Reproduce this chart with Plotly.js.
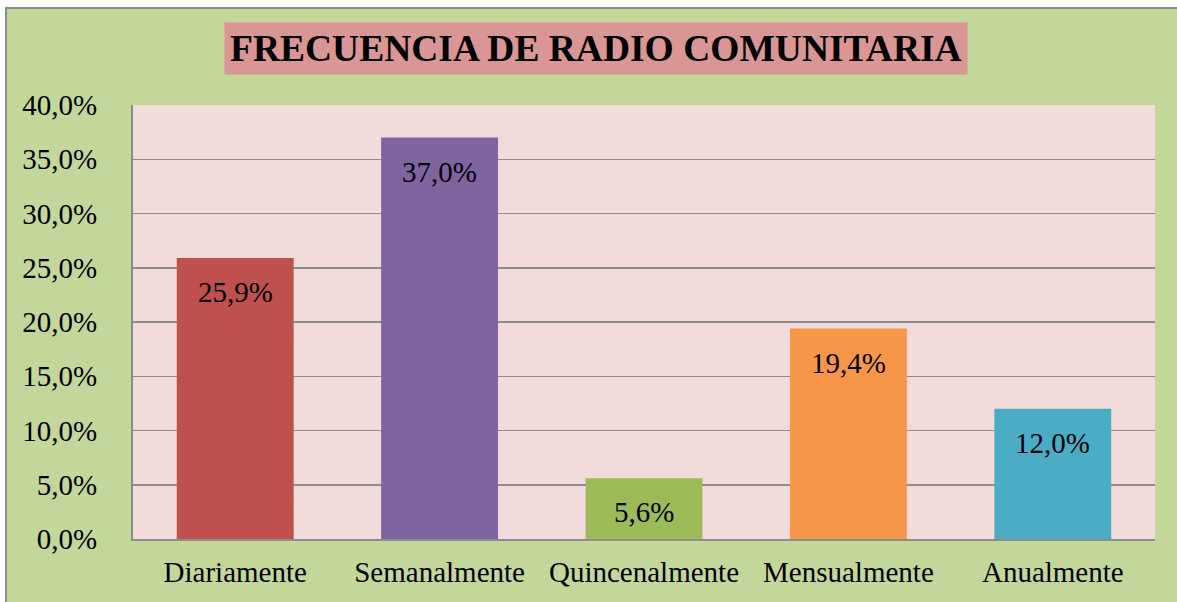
<!DOCTYPE html>
<html>
<head>
<meta charset="utf-8">
<script src="https://cdn.plot.ly/plotly-3.0.1.min.js"></script>
<style>
html,body{margin:0;padding:0;background:#ffffff;width:1177px;height:602px;overflow:hidden;}
#chart{position:absolute;left:5px;top:7px;width:1170px;height:593px;border-left:2px solid #8c8c8c;border-top:2px solid #8c8c8c;}
</style>
</head>
<body>
<div id="chart"></div>
<script>
var categories = ["Diariamente", "Semanalmente", "Quincenalmente", "Mensualmente", "Anualmente"];
var values = [25.9, 37.0, 5.6, 19.4, 12.0];
var labels = ["25,9%", "37,0%", "5,6%", "19,4%", "12,0%"];
var colors = ["#C0504D", "#8064A2", "#9BBB59", "#F79646", "#4BACC6"];
var tickVals = [0, 5, 10, 15, 20, 25, 30, 35, 40];
var tickText = ["0,0%", "5,0%", "10,0%", "15,0%", "20,0%", "25,0%", "30,0%", "35,0%", "40,0%"];
var titleText = "FRECUENCIA DE RADIO COMUNITARIA";

var font = "Liberation Serif, Times New Roman, serif";

var trace = {
  type: "bar",
  x: categories,
  y: values,
  marker: {color: colors, line: {width: 0}},
  hoverinfo: "none"
};

var annotations = categories.map(function (c, i) {
  return {
    x: c, y: values[i], xref: "x", yref: "y",
    text: labels[i], showarrow: false,
    yshift: -34, yanchor: "middle", xanchor: "center",
    font: {family: font, size: 29, color: "#000000"}
  };
});

annotations.push({
  xref: "paper", yref: "paper",
  x: 0.4528, y: 1.1313, xanchor: "center", yanchor: "middle",
  text: "<b>" + titleText + "</b>", showarrow: false,
  bgcolor: "#DA9694", borderpad: 5,
  font: {family: font, size: 37.5, color: "#000000"}
});

var layout = {
  width: 1170, height: 593,
  margin: {l: 126, r: 22, t: 96, b: 63, pad: 0},
  paper_bgcolor: "#C4D79B",
  plot_bgcolor: "#F2DCDB",
  bargap: 0.428,
  showlegend: false,
  font: {family: font, color: "#000000"},
  xaxis: {
    type: "category",
    showline: true, linecolor: "#8c8c8c", linewidth: 2,
    showgrid: false, ticks: "",
    ticklabelstandoff: 6,
    tickfont: {family: font, size: 29, color: "#000000"},
    fixedrange: true
  },
  yaxis: {
    range: [0, 40],
    tickvals: tickVals, ticktext: tickText,
    showline: true, linecolor: "#8c8c8c", linewidth: 2,
    showgrid: true, gridcolor: "#8c8c8c", gridwidth: 1.5,
    zeroline: false, ticks: "",
    ticklabelstandoff: 28,
    tickfont: {family: font, size: 29, color: "#000000"},
    fixedrange: true
  },
  annotations: annotations
};

Plotly.newPlot("chart", [trace], layout, {displayModeBar: false, staticPlot: true});
</script>
</body>
</html>
